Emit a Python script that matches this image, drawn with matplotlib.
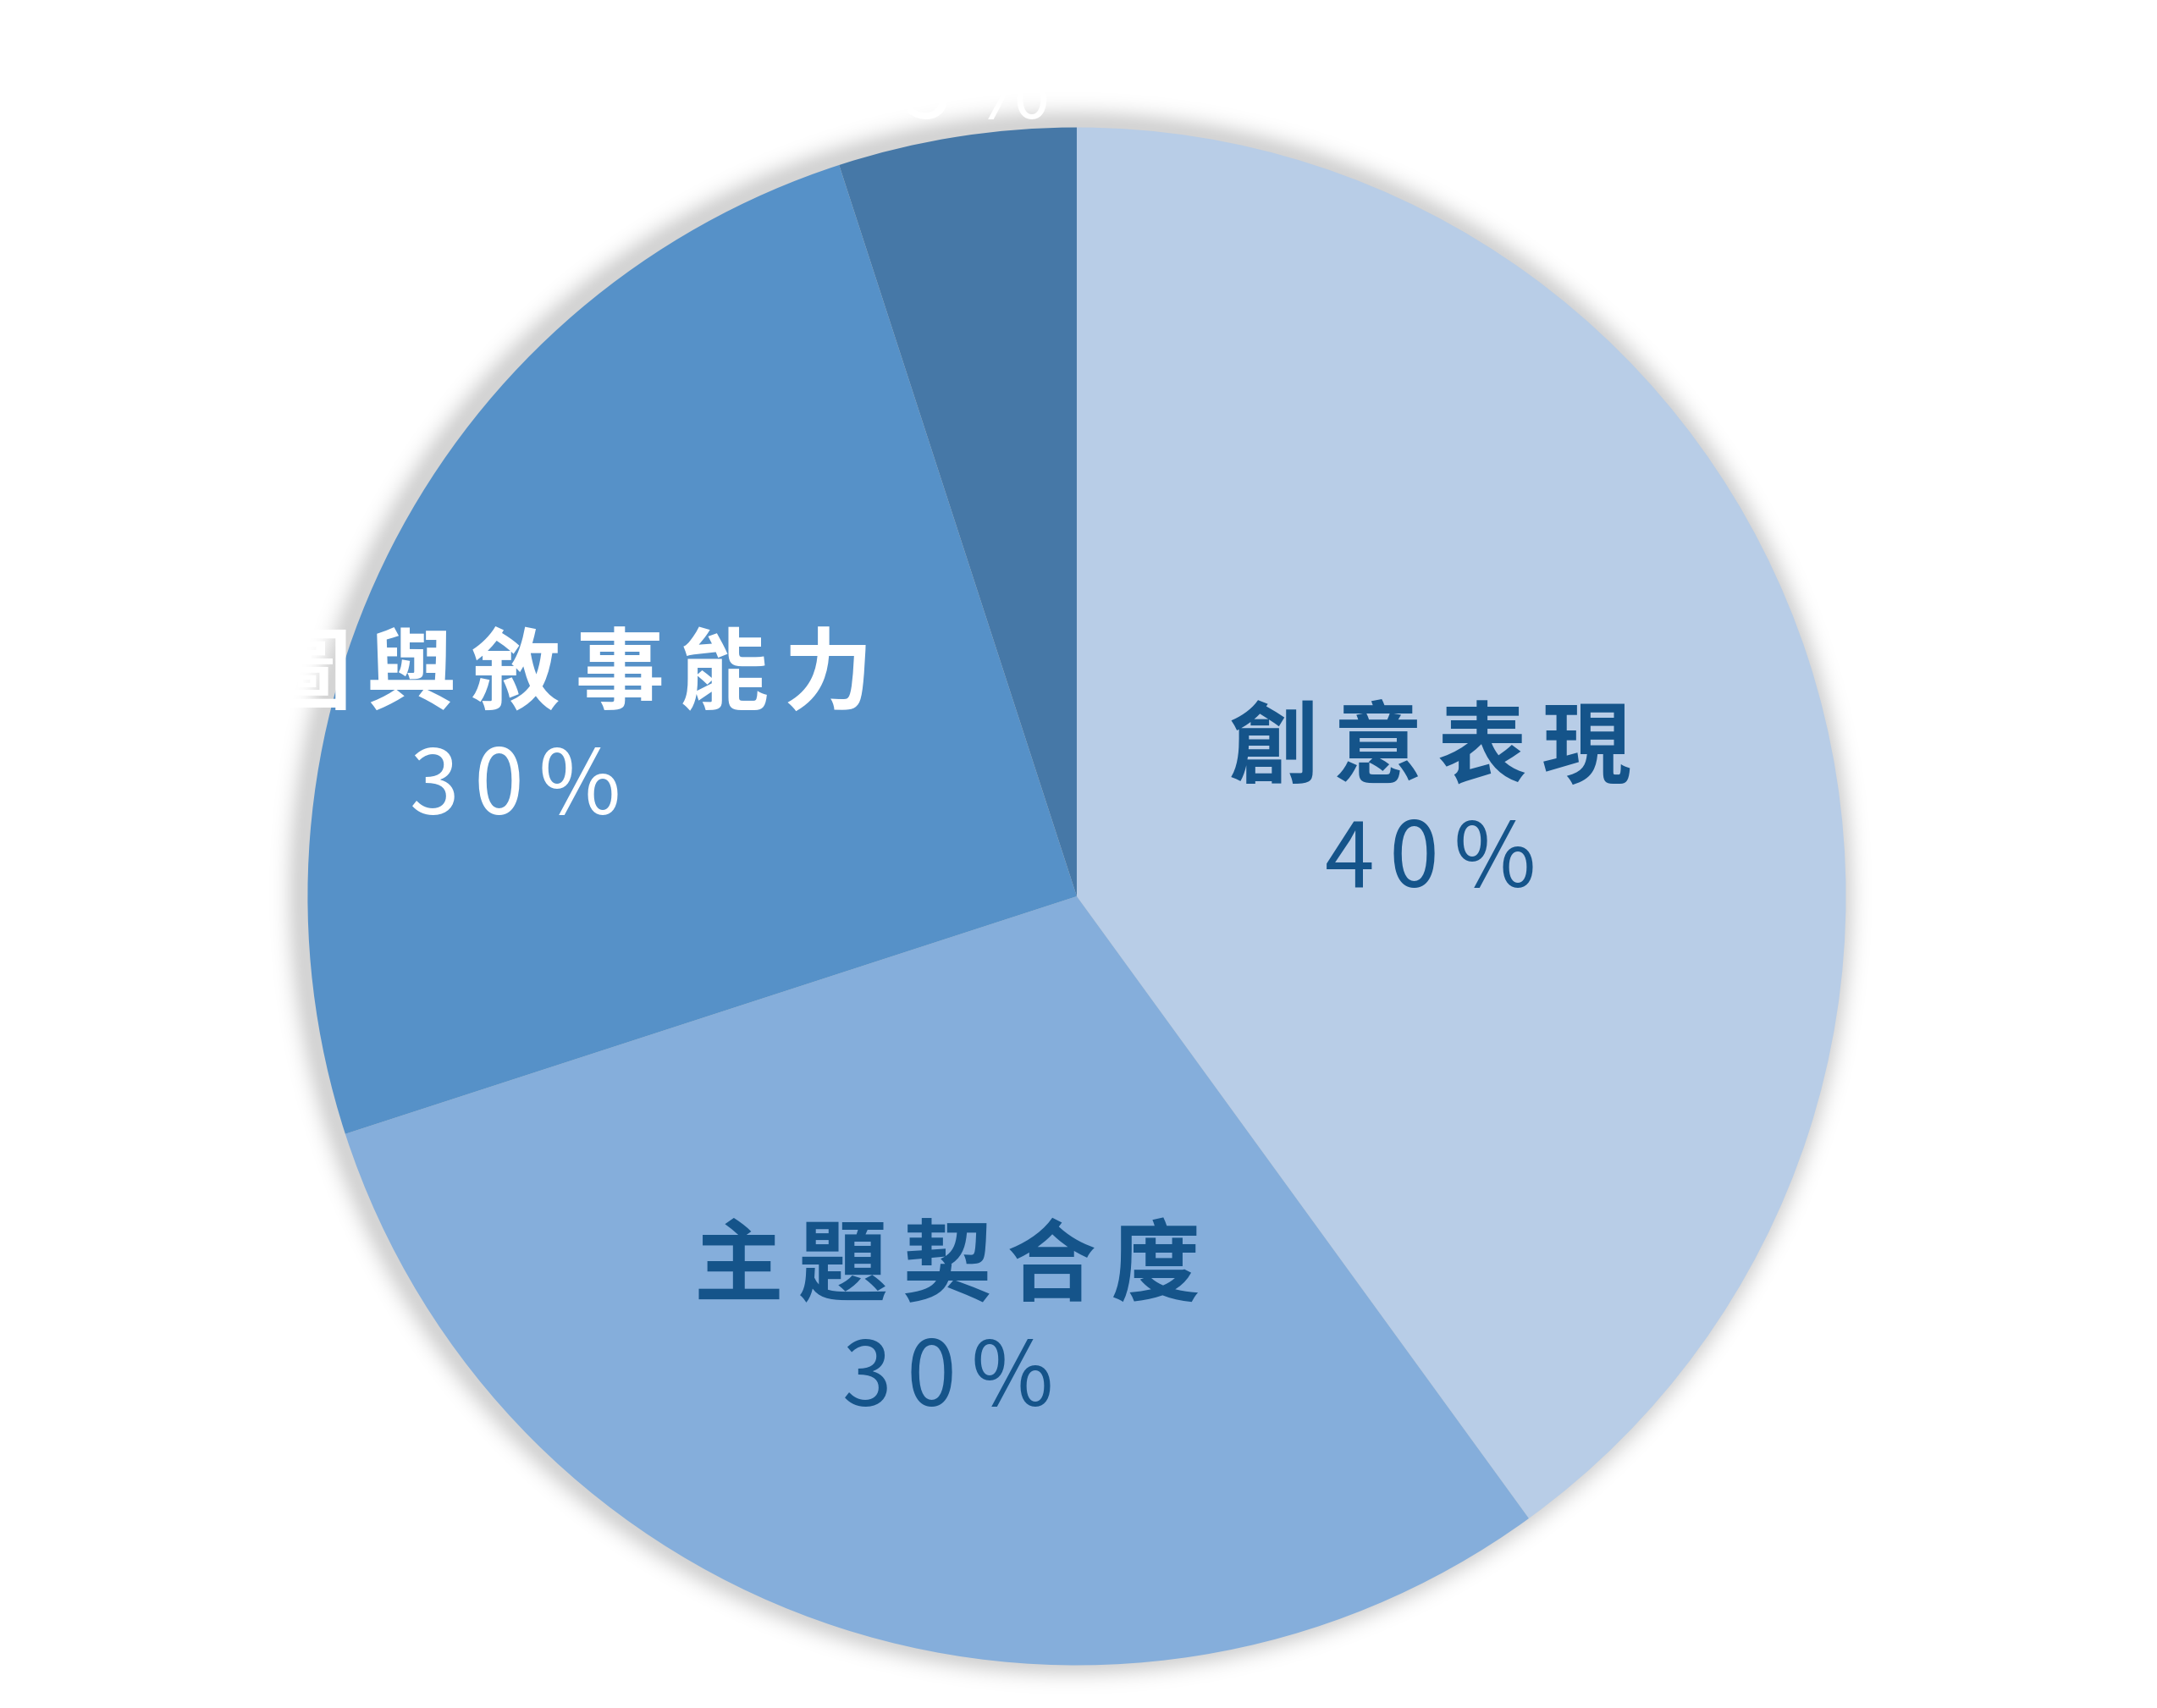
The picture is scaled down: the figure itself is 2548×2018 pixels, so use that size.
import numpy as np
import matplotlib
matplotlib.use("Agg")
import matplotlib.pyplot as plt

plt.rcParams["font.family"] = ["Noto Sans CJK TC", "DejaVu Sans"]

# ---- data ----
categories = ["創意表現", "主題契合度", "構圖與敘事能力", "其他"]
values = [40, 30, 25, 5]
pct_labels = ["40%", "30%", "30%", "5%"]

colors = ["#B8CDE7", "#85AEDB", "#5691C8", "#4678A7"]
text_colors = ["#15548A", "#15548A", "#FFFFFF", "#FFFFFF"]

# label layout: (x center, name baseline, percent baseline) in pie-radius units
# the small slice's name sits above the canvas in the original, so only its % is drawn
label_pos = [(0.460, 0.157, 0.012),
             (-0.168, -0.517, -0.663),
             (-0.730, 0.252, 0.107),
             (-0.130, None, 1.012)]

GAP = "\u2006"  # letter spacing

fig = plt.figure(figsize=(25.48, 20.18), dpi=100)
ax = fig.add_axes([0, 0, 1, 1])
xlim = (-1.400, 1.4045)
ylim = (-1.0556, 1.1657)

# soft drop shadow around the pie
gx = np.linspace(xlim[0], xlim[1], 1400)
gy = np.linspace(ylim[1], ylim[0], 1110)
X, Y = np.meshgrid(gx, gy)
d = np.hypot(X + 0.008, Y - 0.004)
alpha = 0.17 * np.exp(-(np.clip(d - 1.0, 0, None) / 0.022) ** 2)
shadow = np.zeros(X.shape + (4,))
shadow[..., 3] = alpha
ax.imshow(shadow, extent=(xlim[0], xlim[1], ylim[0], ylim[1]), zorder=0,
          interpolation="bilinear", aspect="auto")

ax.pie(values, colors=colors, startangle=90, counterclock=False, radius=1,
       center=(0, 0), wedgeprops=dict(linewidth=0, zorder=1))

for name, pct, col, (x, yn, yp) in zip(categories, pct_labels, text_colors, label_pos):
    if yn is not None:
        ax.text(x, yn, GAP.join(name), ha="center", va="baseline", fontsize=76,
                fontweight="bold", color=col, zorder=3)
    ax.text(x, yp, GAP.join(pct), ha="center", va="baseline", fontsize=76,
            fontweight="medium", color=col, zorder=3)

ax.set_xlim(*xlim)
ax.set_ylim(*ylim)
ax.set_aspect("auto")
ax.axis("off")

fig.savefig("out.png", dpi=100, facecolor="white")
